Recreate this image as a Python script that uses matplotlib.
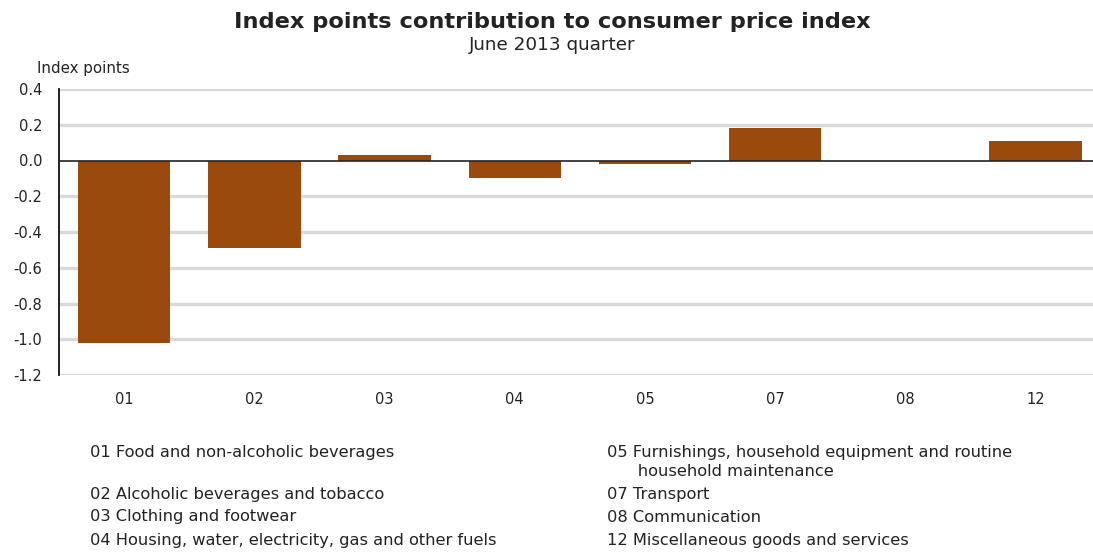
import matplotlib.pyplot as plt
import numpy as np

plt.rcParams['font.family'] = ['DejaVu Sans']

categories = ['01', '02', '03', '04', '05', '07', '08', '12']
values = [-1.02, -0.49, 0.03, -0.10, -0.02, 0.18, 0.0, 0.11]
yticks = [0.4, 0.2, 0.0, -0.2, -0.4, -0.6, -0.8, -1.0, -1.2]

legend_left = ['01 Food and non-alcoholic beverages', '',
               '02 Alcoholic beverages and tobacco',
               '03 Clothing and footwear',
               '04 Housing, water, electricity, gas and other fuels']
legend_right = ['05 Furnishings, household equipment and routine',
                '      household maintenance',
                '07 Transport', '08 Communication',
                '12 Miscellaneous goods and services']

bar_color = '#9a4a0c'

fig = plt.figure(figsize=(10.93, 5.52), dpi=100)
ax = fig.add_axes([59 / 1093, 1 - 375 / 552, 1 - 59 / 1093, (375 - 89) / 552])

x = np.arange(len(categories))
ax.bar(x, values, width=0.71, color=bar_color, zorder=3)

ax.set_xlim(-0.5, 7.44)
ax.set_ylim(-1.2, 0.4)
ax.set_yticks(yticks)
ax.set_yticklabels([f'{v:.1f}' for v in yticks], fontsize=10.5, color='#222222')
ax.set_xticks(x)
ax.set_xticklabels(categories, fontsize=10.5, color='#222222')
ax.tick_params(axis='x', length=0, pad=12)
ax.tick_params(axis='y', length=0, pad=12)

for v in yticks:
    if v != 0.0:
        ax.axhline(v, color='#d9d9d9', linewidth=2.4, zorder=1)
ax.axhline(0, color='#222222', linewidth=1.2, zorder=4)

for side in ['top', 'right', 'bottom']:
    ax.spines[side].set_visible(False)
ax.spines['left'].set_color('#111111')
ax.spines['left'].set_linewidth(1.3)

fig.text(552 / 1093, 1 - 22 / 552, 'Index points contribution to consumer price index',
         ha='center', va='center', fontsize=16.2, fontweight='bold', color='#222222')
fig.text(552 / 1093, 1 - 45 / 552, 'June 2013 quarter',
         ha='center', va='center', fontsize=13.2, color='#222222')
fig.text(37 / 1093, 1 - 68 / 552, 'Index points',
         ha='left', va='center', fontsize=10.8, color='#222222')

rows_y = [452, 472, 495, 517, 540]
for label, y in zip(legend_left, rows_y):
    fig.text(90 / 1093, 1 - y / 552, label, ha='left', va='center', fontsize=11.7, color='#222222')
for label, y in zip(legend_right, rows_y):
    fig.text(607 / 1093, 1 - y / 552, label, ha='left', va='center', fontsize=11.7, color='#222222')

fig.savefig('out.png', dpi=100, facecolor='white')
